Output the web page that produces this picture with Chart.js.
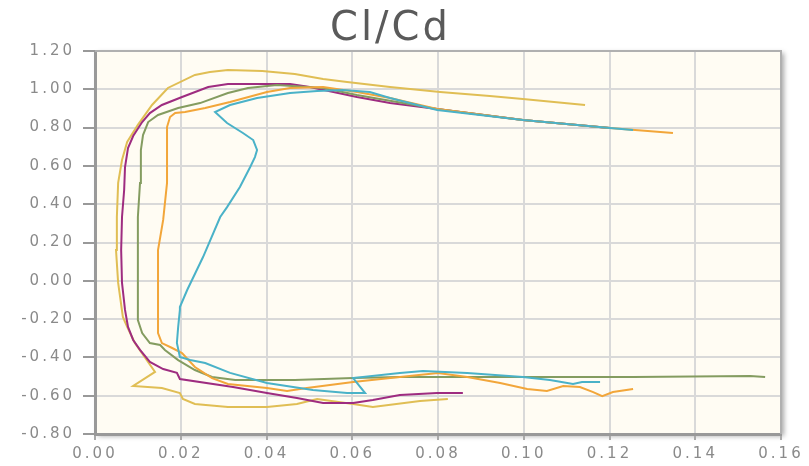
<!DOCTYPE html>
<html>
<head>
<meta charset="utf-8">
<title>Cl/Cd</title>
<script src="https://cdn.jsdelivr.net/npm/chart.js@4.4.1/dist/chart.umd.min.js"></script>
<style>
    html, body { margin: 0; padding: 0; background: #fff; }
    #wrap { width: 809px; height: 466px; }
</style>
</head>
<body>
<div id="wrap"><canvas id="polarChart"></canvas></div>
<script>
// axis ticks
const cdTicks = [0, 0.02, 0.04, 0.06, 0.08, 0.10, 0.12, 0.14, 0.16];
const clTicks = [-0.8, -0.6, -0.4, -0.2, 0, 0.2, 0.4, 0.6, 0.8, 1.0, 1.2];

// polars (Cd, Cl)
const goldCd = [0.0823, 0.0758, 0.0648, 0.0602, 0.0518, 0.0471, 0.0401, 0.0310, 0.0233, 0.0205, 0.0198, 0.0156, 0.0089, 0.0140, 0.0093, 0.0075, 0.0065, 0.0054, 0.0049, 0.0051, 0.0054, 0.0063, 0.0075, 0.0100, 0.0133, 0.0170, 0.0233, 0.0268, 0.0310, 0.0390, 0.0466, 0.0532, 0.0588, 0.0688, 0.0805, 0.0921, 0.0998, 0.1143];
const goldCl = [-0.617, -0.628, -0.659, -0.643, -0.617, -0.643, -0.659, -0.659, -0.643, -0.617, -0.586, -0.560, -0.549, -0.476, -0.325, -0.241, -0.189, -0.011, 0.161, 0.333, 0.511, 0.631, 0.725, 0.814, 0.918, 1.007, 1.075, 1.090, 1.101, 1.096, 1.080, 1.054, 1.038, 1.012, 0.986, 0.965, 0.949, 0.918];

const purpleCd = [0.0858, 0.0798, 0.0711, 0.0648, 0.0602, 0.0532, 0.0471, 0.0401, 0.0322, 0.0198, 0.0191, 0.0159, 0.0128, 0.0105, 0.0089, 0.0077, 0.0070, 0.0063, 0.0061, 0.0063, 0.0068, 0.0070, 0.0077, 0.0089, 0.0110, 0.0128, 0.0156, 0.0203, 0.0264, 0.0310, 0.0390, 0.0455, 0.0501, 0.0611, 0.0688, 0.0798, 0.0998, 0.1201];
const purpleCl = [-0.586, -0.586, -0.596, -0.622, -0.638, -0.638, -0.612, -0.586, -0.555, -0.513, -0.481, -0.461, -0.424, -0.361, -0.309, -0.241, -0.152, -0.011, 0.161, 0.333, 0.474, 0.594, 0.693, 0.756, 0.829, 0.876, 0.918, 0.960, 1.012, 1.028, 1.028, 1.028, 1.012, 0.960, 0.928, 0.897, 0.840, 0.798];

const greenCd = [0.1563, 0.1528, 0.1255, 0.0998, 0.0711, 0.0602, 0.0466, 0.0327, 0.0273, 0.0233, 0.0194, 0.0163, 0.0152, 0.0128, 0.0110, 0.0100, 0.0100, 0.0100, 0.0100, 0.0105, 0.0107, 0.0112, 0.0124, 0.0147, 0.0194, 0.0245, 0.0310, 0.0357, 0.0424, 0.0532, 0.0611, 0.0798, 0.0998, 0.1201];
const greenCl = [-0.502, -0.497, -0.502, -0.502, -0.502, -0.508, -0.518, -0.518, -0.502, -0.466, -0.414, -0.361, -0.335, -0.325, -0.273, -0.205, -0.011, 0.161, 0.333, 0.511, 0.683, 0.761, 0.829, 0.866, 0.902, 0.928, 0.981, 1.007, 1.022, 1.007, 0.970, 0.897, 0.840, 0.798];

const orangeCd = [0.1255, 0.1208, 0.1183, 0.1162, 0.1131, 0.1092, 0.1054, 0.1008, 0.0945, 0.0868, 0.0800, 0.0711, 0.0602, 0.0494, 0.0448, 0.0401, 0.0310, 0.0273, 0.0233, 0.0203, 0.0180, 0.0156, 0.0147, 0.0147, 0.0147, 0.0147, 0.0159, 0.0168, 0.0168, 0.0168, 0.0175, 0.0187, 0.0210, 0.0257, 0.0315, 0.0401, 0.0455, 0.0532, 0.0611, 0.0688, 0.0798, 0.0998, 0.1201, 0.1348];
const orangeCl = [-0.565, -0.581, -0.602, -0.581, -0.555, -0.549, -0.575, -0.565, -0.534, -0.502, -0.481, -0.502, -0.528, -0.560, -0.575, -0.560, -0.539, -0.508, -0.450, -0.377, -0.351, -0.325, -0.273, -0.189, -0.011, 0.161, 0.318, 0.511, 0.683, 0.803, 0.855, 0.876, 0.881, 0.902, 0.934, 0.986, 1.007, 1.012, 0.986, 0.955, 0.897, 0.840, 0.798, 0.772];

const tealCd = [0.1178, 0.1136, 0.1115, 0.1061, 0.0998, 0.0868, 0.0765, 0.0711, 0.0602, 0.0630, 0.0588, 0.0508, 0.0401, 0.0315, 0.0257, 0.0222, 0.0198, 0.0191, 0.0194, 0.0198, 0.0198, 0.0215, 0.0252, 0.0292, 0.0308, 0.0338, 0.0362, 0.0373, 0.0378, 0.0369, 0.0345, 0.0308, 0.0280, 0.0315, 0.0378, 0.0455, 0.0518, 0.0578, 0.0641, 0.0688, 0.0798, 0.0998, 0.1201, 0.1255];
const tealCl = [-0.528, -0.528, -0.539, -0.518, -0.502, -0.481, -0.471, -0.481, -0.508, -0.586, -0.586, -0.570, -0.534, -0.481, -0.429, -0.414, -0.398, -0.325, -0.241, -0.152, -0.137, -0.048, 0.124, 0.333, 0.385, 0.490, 0.594, 0.646, 0.683, 0.735, 0.772, 0.824, 0.881, 0.918, 0.955, 0.981, 0.991, 0.996, 0.986, 0.955, 0.892, 0.840, 0.798, 0.787];

function toPoints(cd, cl) {
    return cd.map((x, i) => ({ x: x, y: cl[i] }));
}

function polar(label, cd, cl, color) {
    return {
        label: label,
        data: toPoints(cd, cl),
        borderColor: color,
        backgroundColor: color,
        borderWidth: 2,
        pointRadius: 0,
        showLine: true,
        tension: 0
    };
}

// cream plot area + gray frame
const plotFrame = {
    id: 'plotFrame',
    beforeDraw(chart) {
        const { ctx, chartArea: a } = chart;
        ctx.save();
        ctx.shadowColor = 'rgba(0,0,0,0.35)';
        ctx.shadowBlur = 5;
        ctx.shadowOffsetX = 3;
        ctx.shadowOffsetY = 2;
        ctx.fillStyle = '#fffcf3';
        ctx.fillRect(a.left, a.top, a.right - a.left, a.bottom - a.top);
        ctx.restore();
        ctx.letterSpacing = '3px';
    },
    beforeDatasetsDraw(chart) {
        const { ctx, chartArea: a } = chart;
        ctx.save();
        ctx.strokeStyle = '#b0b0b0';
        ctx.lineWidth = 2;
        ctx.beginPath();
        ctx.moveTo(a.left, a.top);
        ctx.lineTo(a.right, a.top);
        ctx.lineTo(a.right, a.bottom);
        ctx.stroke();
        ctx.restore();
    }
};

document.addEventListener('DOMContentLoaded', function() {
    const ctx = document.getElementById('polarChart').getContext('2d');
    new Chart(ctx, {
        type: 'scatter',
        data: {
            datasets: [
                polar('teal', tealCd, tealCl, 'rgb(74,178,200)'),
                polar('orange', orangeCd, orangeCl, 'rgb(242,166,58)'),
                polar('green', greenCd, greenCl, 'rgb(132,156,96)'),
                polar('purple', purpleCd, purpleCl, 'rgb(158,44,128)'),
                polar('gold', goldCd, goldCl, 'rgb(224,190,84)')
            ]
        },
        options: {
            responsive: true,
            maintainAspectRatio: false,
            animation: false,
            layout: { padding: { left: 0, right: 28, top: 0, bottom: 0 } },
            plugins: {
                legend: { display: false },
                tooltip: { enabled: false },
                title: {
                    display: true,
                    text: 'Cl/Cd',
                    color: '#5a5a5a',
                    font: { family: 'DejaVu Sans', size: 40, weight: 'normal', lineHeight: 1.05 },
                    padding: { top: 9, bottom: 0 }
                }
            },
            scales: {
                x: {
                    type: 'linear',
                    min: 0,
                    max: 0.16,
                    afterBuildTicks: s => { s.ticks = cdTicks.map(v => ({ value: v })); },
                    afterFit: s => { s.height = 32; },
                    grid: { color: '#d9d9d9', lineWidth: 2, tickLength: 6, tickColor: '#aaa', tickWidth: 2 },
                    border: { color: '#999', width: 3 },
                    ticks: {
                        padding: 5,
                        color: '#8a8a8a',
                        font: { family: 'DejaVu Sans', size: 15 },
                        maxRotation: 0,
                        callback: v => v.toFixed(2)
                    }
                },
                y: {
                    type: 'linear',
                    min: -0.8,
                    max: 1.2,
                    afterBuildTicks: s => { s.ticks = clTicks.map(v => ({ value: v })); },
                    afterFit: s => { s.width = 95; },
                    grid: { color: '#d9d9d9', lineWidth: 2, tickLength: 12, tickColor: '#999', tickWidth: 2 },
                    border: { color: '#999', width: 3 },
                    ticks: {
                        padding: 8,
                        color: '#8a8a8a',
                        font: { family: 'DejaVu Sans', size: 15 },
                        callback: v => v.toFixed(2)
                    }
                }
            }
        },
        plugins: [plotFrame]
    });
});
</script>
</body>
</html>
